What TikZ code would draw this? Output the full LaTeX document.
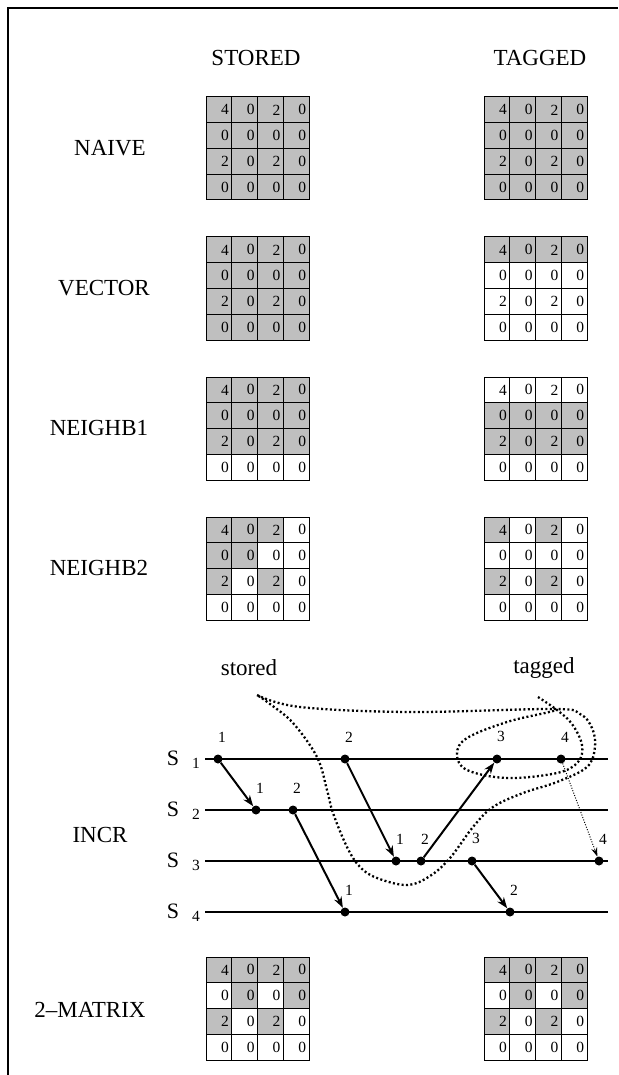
\documentclass[tikz,border=0pt]{standalone}
\usepackage{fontspec}
\setmainfont{Liberation Serif}
\usetikzlibrary{arrows.meta,positioning}
\definecolor{G}{gray}{0.75}
\colorlet{W}{white}

% 4x4 value grid: name, left, top, cell fills
\newcommand{\valgrid}[4]{%
  \foreach \fc [count=\k from 0] in {#4} {
    \pgfmathtruncatemacro{\col}{mod(\k,4)}
    \pgfmathtruncatemacro{\row}{div(\k,4)}
    \pgfmathtruncatemacro{\val}{{4,0,2,0,0,0,0,0,2,0,2,0,0,0,0,0}[\k]}
    \draw[cell, fill=\fc] (#2+25.75*\col, #3+25.75*\row) rectangle ++(25.75,25.75);
    \node[entry] (#1-\k) at (#2+25.75*\col+23, #3+25.75*\row+12.9) {\val};
  }%
}

\begin{document}
\begin{tikzpicture}[
  x=1pt, y=-1pt,
  head/.style={font=\fontsize{23}{23}\selectfont, inner sep=0pt},
  cell/.style={draw, line width=1pt},
  entry/.style={anchor=east, font=\fontsize{15.5}{15.5}\selectfont, inner sep=0pt},
  proc/.style={font=\fontsize{22}{22}\selectfont, inner sep=0pt},
  sub/.style={font=\fontsize{15.5}{15.5}\selectfont, inner sep=0pt},
  track/.style={line width=2.2pt},
  dot/.style={circle, fill, inner sep=0pt, minimum size=9pt},
  num/.style={font=\fontsize{15.5}{15.5}\selectfont, inner sep=1pt, label distance=11pt, xshift=4pt},
  msg/.style={line width=2pt, -{Stealth[length=11pt, width=8pt]}},
  late/.style={line width=1pt, dash pattern=on 1pt off 1.6pt, -{Stealth[length=9pt, width=6pt]}},
  cut/.style={line width=2.3pt, dash pattern=on 2pt off 2.4pt}
]
  \useasboundingbox (0,0) rectangle (618,1075);

  % Frame
  \draw[line width=1.8pt] (8,1075) -- (8,8) -- (618,8);

  % Column headings
  \node[head] (stored) at (256,58) {STORED};
  \node[head] (tagged) at (540,58) {TAGGED};

  % Row names
  \node[head] (naive) at (110,148) {NAIVE};
  \node[head] (vector) at (104,288) {VECTOR};
  \node[head] (nb1) at (99,428) {NEIGHB1};
  \node[head] (nb2) at (99,568) {NEIGHB2};
  \node[head] (incr) at (100,835) {INCR};
  \node[head] (twomat) at (90,1010) {2--MATRIX};

  % Grids
  \valgrid{naiveS}{206}{97}{G,G,G,G, G,G,G,G, G,G,G,G, G,G,G,G}
  \valgrid{naiveT}{484}{97}{G,G,G,G, G,G,G,G, G,G,G,G, G,G,G,G}
  \valgrid{vectorS}{206}{237}{G,G,G,G, G,G,G,G, G,G,G,G, G,G,G,G}
  \valgrid{vectorT}{484}{237}{G,G,G,G, W,W,W,W, W,W,W,W, W,W,W,W}
  \valgrid{nbaS}{206}{377}{G,G,G,G, G,G,G,G, G,G,G,G, W,W,W,W}
  \valgrid{nbaT}{484}{377}{W,W,W,W, G,G,G,G, G,G,G,G, W,W,W,W}
  \valgrid{nbbS}{206}{517}{G,G,G,W, G,G,W,W, G,W,G,W, W,W,W,W}
  \valgrid{nbbT}{484}{517}{G,W,G,W, W,W,W,W, G,W,G,W, W,W,W,W}
  \valgrid{twoS}{206}{957}{G,G,G,G, W,G,W,G, G,W,G,W, W,W,W,W}
  \valgrid{twoT}{484}{957}{G,G,G,G, W,G,W,G, G,W,G,W, W,W,W,W}

  % Cut labels
  \node[head] (cutS) at (249,668) {stored};
  \node[head] (cutT) at (544,668) {tagged};

  % Process lines
  \node[proc] (S1) at (173,758) {S};
  \node[proc] (S2) at (173,809) {S};
  \node[proc] (S3) at (173,860) {S};
  \node[proc] (S4) at (173,911) {S};
  \node[sub] (S1n) at (196,763) {1};
  \node[sub] (S2n) at (196,814) {2};
  \node[sub] (S3n) at (196,865) {3};
  \node[sub] (S4n) at (196,916) {4};
  \coordinate (S1a) at (205,759);
  \coordinate (S1b) at (608,759);
  \coordinate (S2a) at (205,810);
  \coordinate (S2b) at (608,810);
  \coordinate (S3a) at (205,861);
  \coordinate (S3b) at (608,861);
  \coordinate (S4a) at (205,912);
  \coordinate (S4b) at (608,912);
  \draw[track] (S1a) -- (S1b);
  \draw[track] (S2a) -- (S2b);
  \draw[track] (S3a) -- (S3b);
  \draw[track] (S4a) -- (S4b);

  % Events
  \node[dot, label={[num]above:1}] (p11) at (218,759) {};
  \node[dot, label={[num]above:2}] (p12) at (345,759) {};
  \node[dot, label={[num]above:3}] (p13) at (497,759) {};
  \node[dot, label={[num]above:4}] (p14) at (561,759) {};
  \node[dot, label={[num]above:1}] (p21) at (256,810) {};
  \node[dot, label={[num]above:2}] (p22) at (293,810) {};
  \node[dot, label={[num]above:1}] (p31) at (396,861) {};
  \node[dot, label={[num]above:2}] (p32) at (421,861) {};
  \node[dot, label={[num]above:3}] (p33) at (472,861) {};
  \node[dot, label={[num]above:4}] (p34) at (599,861) {};
  \node[dot, label={[num]above:1}] (p41) at (345,912) {};
  \node[dot, label={[num]above:2}] (p42) at (510,912) {};

  % Messages
  \draw[msg] (p11) -- (p21);
  \draw[msg] (p22) -- (p41);
  \draw[msg] (p12) -- (p31);
  \draw[msg] (p32) -- (p13);
  \draw[msg] (p33) -- (p42);
  \draw[late] (p14) -- (p34);

  % Cuts
  \draw[cut] plot[smooth, tension=0.6] coordinates {
    (257,695) (300,707) (410,712) (553,709) (580,714) (592,728) (595,747)
    (587,767) (557,782) (523,793) (493,807) (473,827) (450,858) (430,876)
    (407,885) (377,878) (360,867) (347,847) (333,813) (327,790) (317,757)
    (293,723) (270,704) (257,695)};
  \draw[cut] plot[smooth, tension=0.6] coordinates {
    (538,697) (557,710) (572,724) (582,745) (578,762) (557,773) (507,778)
    (467,770) (457,754) (467,738) (507,722) (545,713) (557,710)};
\end{tikzpicture}
\end{document}
